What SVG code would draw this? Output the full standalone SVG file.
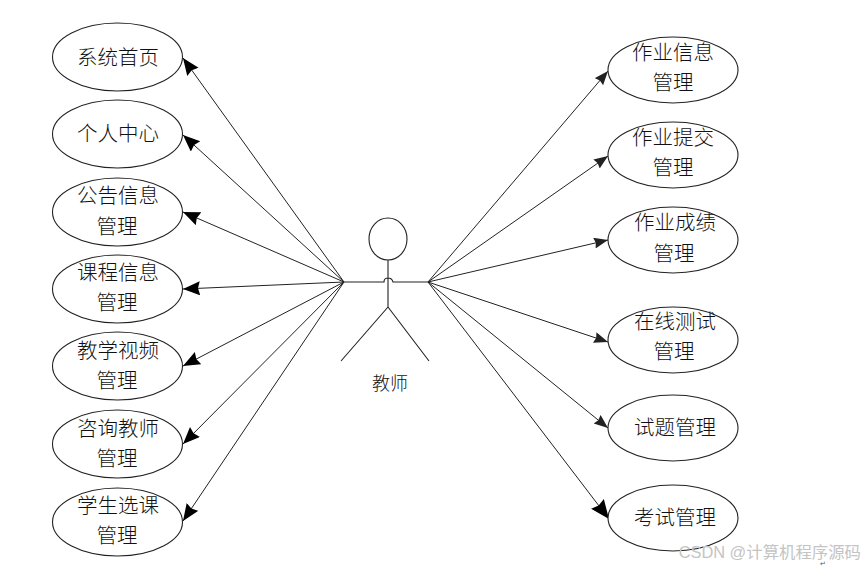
<svg xmlns="http://www.w3.org/2000/svg" width="864" height="567" viewBox="0 0 864 567">
<style>
.n{fill:#fff;stroke:#222;stroke-width:1.1}
.t{font-family:"Noto Sans CJK SC","Liberation Sans",sans-serif;font-size:20.500px;font-weight:300;fill:#111;text-anchor:middle}
.c{fill:none;stroke:#222;stroke-width:1}
.f{fill:none;stroke:#222;stroke-width:1.1}
</style>
<defs>
<marker id="a" markerUnits="userSpaceOnUse" markerWidth="20" markerHeight="16" refX="17" refY="7" orient="auto"><path d="M0 0L17 7L0 14L2 7z" fill="#000"/></marker>
<marker id="b" markerUnits="userSpaceOnUse" markerWidth="16" markerHeight="13" refX="14" refY="5.500" orient="auto"><path d="M0 0L14 5.500L0 11L1.500 5.500z" fill="#222"/></marker>
<marker id="c" markerUnits="userSpaceOnUse" markerWidth="22" markerHeight="18" refX="19" refY="8" orient="auto"><path d="M0 0L19 8L0 16L2 8z" fill="#000"/></marker>
</defs>
<rect width="864" height="567" fill="#fff"/>
<g id="connectors">
<path class="c" marker-end="url(#a)" d="M344 282L183 58"/>
<path class="c" marker-end="url(#a)" d="M344 282L183 135"/>
<path class="c" marker-end="url(#a)" d="M344 282L183 212"/>
<path class="c" marker-end="url(#a)" d="M344 282L183 289"/>
<path class="c" marker-end="url(#a)" d="M344 282L183 366"/>
<path class="c" marker-end="url(#a)" d="M344 282L183 444"/>
<path class="c" marker-end="url(#a)" d="M344 282L183 521"/>
<path class="c" marker-end="url(#b)" d="M428 282L608 71"/>
<path class="c" marker-end="url(#b)" d="M428 282L608 156"/>
<path class="c" marker-end="url(#b)" d="M428 282L608 240"/>
<path class="c" marker-end="url(#b)" d="M428 282L608 342"/>
<path class="c" marker-end="url(#b)" d="M428 282L608 428"/>
<path class="c" marker-end="url(#c)" d="M428 282L609 519"/>
</g>
<g id="actor">
<ellipse class="f" cx="388" cy="239" rx="19" ry="21"/>
<path class="f" d="M388 260V307M344 282H384Q384 278 388 278Q392 278 393 282H428M388 307L341 361M388 307L429 361"/>
<text x="390" y="390" class="t" style="font-size:18px">教师</text>
</g>
<g id="n1"><ellipse class="n" cx="117.500" cy="57" rx="65" ry="34"/><text class="t" x="118" y="65">系统首页</text></g>
<g id="n2"><ellipse class="n" cx="117.500" cy="134" rx="65" ry="34"/><text class="t" x="118" y="141">个人中心</text></g>
<g id="n3"><ellipse class="n" cx="117.500" cy="212" rx="65" ry="34"/><text class="t" x="118" y="203">公告信息</text><text class="t" x="117" y="234">管理</text></g>
<g id="n4"><ellipse class="n" cx="117.500" cy="289" rx="65" ry="34"/><text class="t" x="118" y="280">课程信息</text><text class="t" x="117" y="310">管理</text></g>
<g id="n5"><ellipse class="n" cx="117.500" cy="366" rx="65" ry="34"/><text class="t" x="118" y="358">教学视频</text><text class="t" x="117" y="388">管理</text></g>
<g id="n6"><ellipse class="n" cx="117.500" cy="444" rx="65" ry="34"/><text class="t" x="118" y="436">咨询教师</text><text class="t" x="117" y="466">管理</text></g>
<g id="n7"><ellipse class="n" cx="117.500" cy="522" rx="65" ry="34"/><text class="t" x="118" y="513">学生选课</text><text class="t" x="117" y="543">管理</text></g>
<g id="n8"><ellipse class="n" cx="673" cy="70" rx="65" ry="33"/><text class="t" x="673" y="60">作业信息</text><text class="t" x="673" y="90">管理</text></g>
<g id="n9"><ellipse class="n" cx="673" cy="155" rx="65" ry="33"/><text class="t" x="673" y="145">作业提交</text><text class="t" x="673" y="175">管理</text></g>
<g id="n10"><ellipse class="n" cx="673" cy="240" rx="65" ry="33"/><text class="t" x="675" y="230">作业成绩</text><text class="t" x="674" y="261">管理</text></g>
<g id="n11"><ellipse class="n" cx="673" cy="340" rx="65" ry="33"/><text class="t" x="675" y="329">在线测试</text><text class="t" x="674" y="359">管理</text></g>
<g id="n12"><ellipse class="n" cx="673" cy="428" rx="65" ry="33"/><text class="t" x="675" y="435">试题管理</text></g>
<g id="n13"><ellipse class="n" cx="673" cy="518" rx="65" ry="33"/><text class="t" x="675" y="525">考试管理</text></g>
<text x="861" y="558" style="font-family:'Liberation Sans','Noto Sans CJK SC',sans-serif;font-size:16.400px;fill:#c4c4c4;text-anchor:end">CSDN @计算机程序源码</text>
<text x="823" y="566" style="font-family:'Liberation Sans','Noto Sans CJK SC',sans-serif;font-size:7px;fill:#555;text-anchor:middle">↵</text>
</svg>
